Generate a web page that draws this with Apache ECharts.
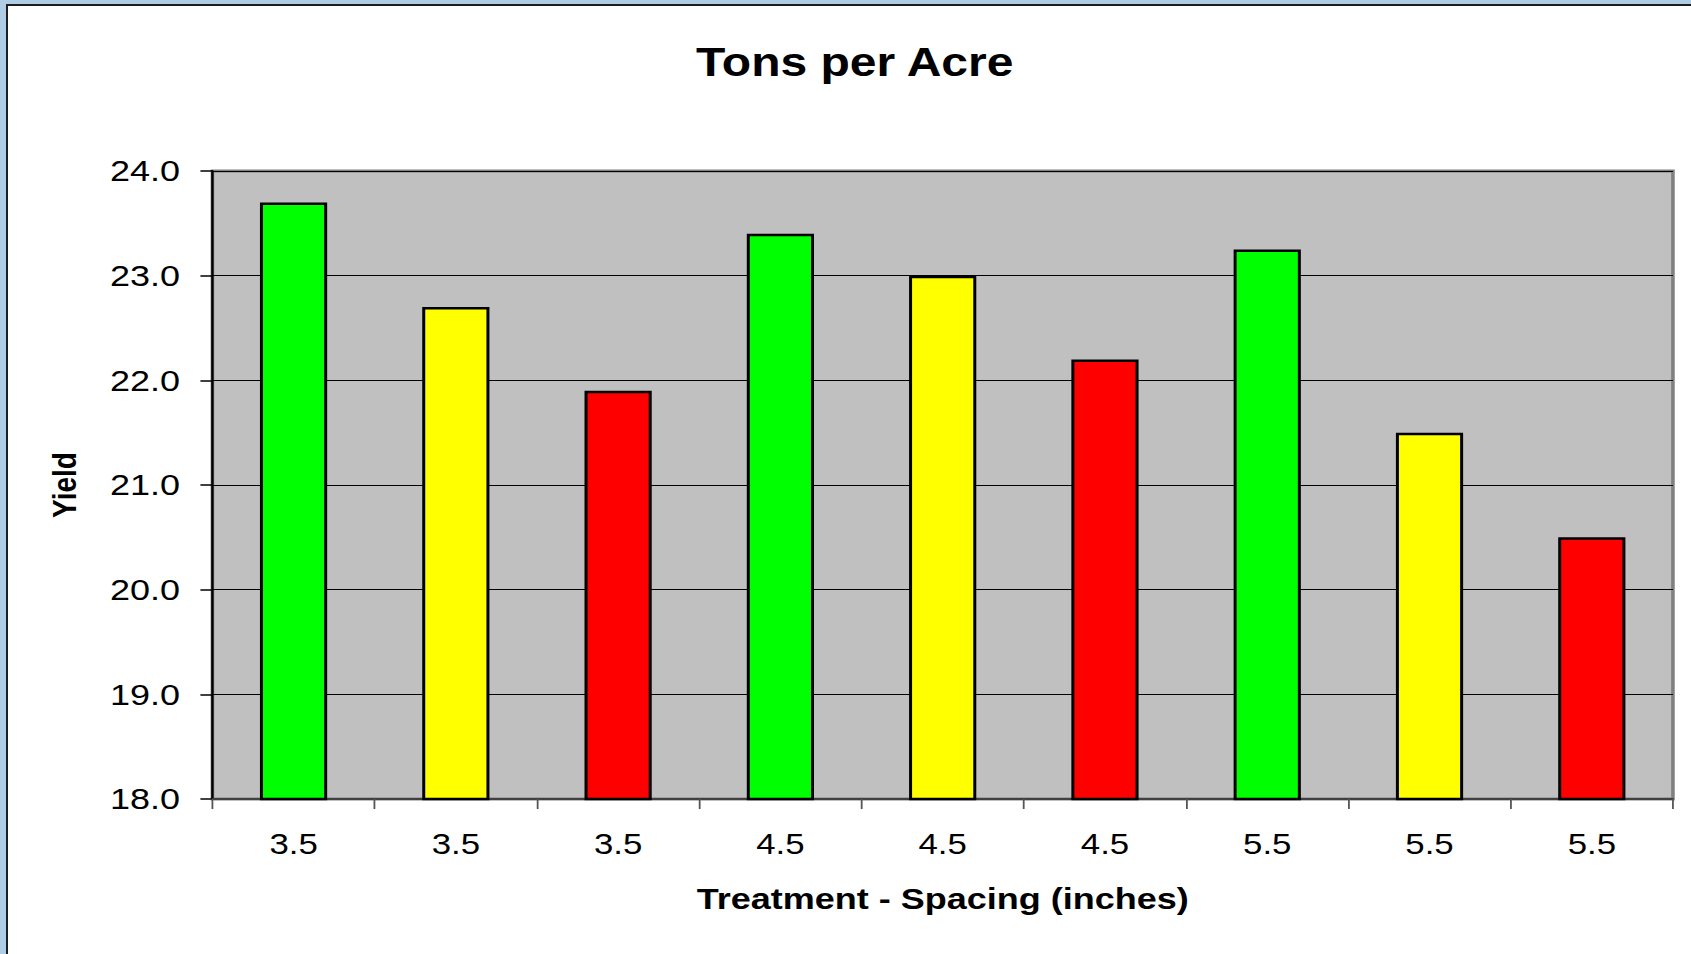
<!DOCTYPE html>
<html><head><meta charset="utf-8">
<script src="https://cdn.jsdelivr.net/npm/echarts@6/dist/echarts.min.js"></script>
<style>
html,body{margin:0;padding:0;width:1691px;height:954px;overflow:hidden;background:#b0cde6;}
#panel{position:absolute;left:6px;top:4px;width:1685px;height:950px;background:#fff;border-left:2px solid #1e1e1e;border-top:2px solid #1e1e1e;box-sizing:border-box;}
#chart{position:absolute;left:0;top:0;width:1409px;height:954px;transform:scaleX(1.2001);transform-origin:0 0;}
</style></head><body>
<div id="panel"></div><div id="chart"></div>
<script>
// ---- data ----
const categories = ['3.5', '3.5', '3.5', '4.5', '4.5', '4.5', '5.5', '5.5', '5.5'];
const yieldValues = [23.7, 22.7, 21.9, 23.4, 23.0, 22.2, 23.25, 21.5, 20.5];
const yAxisMin = 18;
const yAxisMax = 24;
const yAxisStep = 1;
const titleText = 'Tons per Acre';
const xAxisTitle = 'Treatment - Spacing (inches)';
const yAxisTitle = 'Yield';

// ---- styles ----
const barColors = ['#00FF00', '#FFFF00', '#FF0000'];
const font = '"Liberation Sans", Arial, sans-serif';

const chart = echarts.init(document.getElementById('chart'), null, { renderer: 'svg' });
chart.setOption({
  backgroundColor: 'transparent',
  animation: false,
  title: {
    text: titleText,
    left: 575,
    top: 37,
    textStyle: { fontFamily: font, fontSize: 40, fontWeight: 'bold', color: '#000' }
  },
  grid: {
    left: 177, right: 15, top: 171, bottom: 155,
    show: true,
    backgroundColor: '#C0C0C0',
    borderColor: '#808080',
    borderWidth: 3
  },
  xAxis: {
    type: 'category',
    data: categories,
    boundaryGap: true,
    name: xAxisTitle,
    nameLocation: 'middle',
    nameGap: 85,
    nameTextStyle: { fontFamily: font, fontSize: 30, fontWeight: 'bold', color: '#000' },
    axisLine: { show: true, lineStyle: { color: '#404040', width: 2 } },
    axisTick: { show: true, alignWithLabel: false, length: 10, lineStyle: { color: '#555', width: 1.5 } },
    axisLabel: { fontFamily: font, fontSize: 29, color: '#000', margin: 31, interval: 0 },
    splitLine: { show: false }
  },
  yAxis: {
    type: 'value',
    min: yAxisMin,
    max: yAxisMax,
    interval: yAxisStep,
    name: yAxisTitle,
    nameLocation: 'middle',
    nameRotate: 90,
    nameGap: 109,
    nameTextStyle: { fontFamily: font, fontSize: 28, fontWeight: 'bold', color: '#000' },
    axisLine: { show: true, lineStyle: { color: '#000', width: 2 } },
    axisTick: { show: true, length: 10, lineStyle: { color: '#000', width: 1.5 } },
    axisLabel: { fontFamily: font, fontSize: 30, color: '#000', margin: 27, formatter: v => v.toFixed(1) },
    splitLine: { show: true, lineStyle: { color: '#000', width: 1 } }
  },
  series: [{
    type: 'bar',
    barWidth: 56,
    data: yieldValues.map((v, i) => ({
      value: v,
      itemStyle: { color: barColors[i % barColors.length] }
    })),
    itemStyle: { borderColor: '#000', borderWidth: 2.5 }
  }]
});
</script>
</body></html>
